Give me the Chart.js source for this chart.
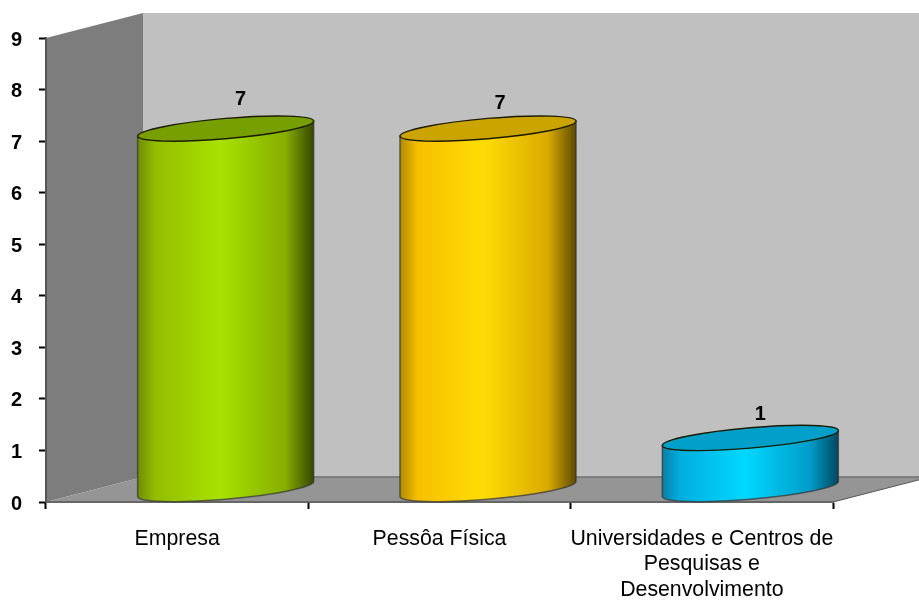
<!DOCTYPE html>
<html>
<head>
<meta charset="utf-8">
<style>
  html, body { margin: 0; padding: 0; background: #fff; }
  #wrap { width: 919px; height: 600px; }
</style>
<script src="https://cdn.jsdelivr.net/npm/chart.js@4/dist/chart.umd.js"></script>
</head>
<body>
<div id="wrap"><canvas id="chart" width="919" height="600"></canvas></div>
<script>
const categories = [
  'Empresa',
  'Pessôa Física',
  ['Universidades e Centros de', 'Pesquisas e', 'Desenvolvimento']
];
const values = [7, 7, 1];
const baseColors = ['#a8e000', '#ffdc05', '#00d8ff'];
const capColors = ['#779f00', '#cca400', '#00a0cb'];
const shadeStops = [0, 0.1, 0.47, 0.84, 1];
const shadeColors = [
  ['#6f8c00', '#93bd00', '#a8e200', '#86ad00', '#364700'],
  ['#b08a00', '#f7bf00', '#ffdc05', '#d9aa00', '#5c4a00'],
  ['#0a7ea6', '#00aedf', '#00d8ff', '#009cc8', '#00485e']
];
const labelNudges = [[15, -29], [12, -25], [10, -23]];

// Oblique projection of the plot box.
const DEPTH_X = 97;
const DEPTH_Y = -25;
const TILT = 7.5;
const MINOR = 10.2;

function ellipsePath(ctx, cx, cy, rx, start, end) {
  ctx.save();
  ctx.translate(cx, cy);
  ctx.transform(rx, -TILT, 0, MINOR, 0, 0);
  ctx.arc(0, 0, 1, start, end);
  ctx.restore();
}

const box3d = {
  id: 'box3d',
  beforeDraw(chart) {
    const { ctx, chartArea: a } = chart;
    const poly = (pts, fill) => {
      ctx.beginPath();
      pts.forEach((p, i) => i ? ctx.lineTo(p[0], p[1]) : ctx.moveTo(p[0], p[1]));
      ctx.closePath();
      ctx.fillStyle = fill;
      ctx.fill();
    };
    const bx = a.left + DEPTH_X, by = a.bottom + DEPTH_Y, ty = a.top + DEPTH_Y;
    poly([[bx, ty], [a.right + DEPTH_X, ty], [a.right + DEPTH_X, by], [bx, by]], '#c0c0c0');
    poly([[a.left, a.top], [bx, ty], [bx, by], [a.left, a.bottom]], '#7d7d7d');
    poly([[a.left, a.bottom], [bx, by], [a.right + DEPTH_X, by], [a.right, a.bottom]], '#959595');
    ctx.save();
    ctx.strokeStyle = '#707070';
    ctx.lineWidth = 1.5;
    ctx.beginPath();
    ctx.moveTo(bx, by);
    ctx.lineTo(a.right + DEPTH_X, by);
    ctx.stroke();
    ctx.strokeStyle = '#555';
    ctx.lineWidth = 1;
    ctx.beginPath();
    ctx.moveTo(a.right, a.bottom);
    ctx.lineTo(a.right + DEPTH_X, by);
    ctx.stroke();
    ctx.restore();

    // Tick labels sit slightly below their tick marks.
    chart.scales.y.getLabelItems().forEach(item => { item.options.translation[1] += 2; });
  },
  beforeDatasetDraw(chart, args) {
    const { ctx } = chart;
    args.meta.data.forEach((bar, i) => {
      const rx = bar.width / 2;
      const cx = bar.x + DEPTH_X / 2;
      const top = bar.y + DEPTH_Y / 2;
      const bottom = bar.base + DEPTH_Y / 2;
      const g = ctx.createLinearGradient(cx - rx, 0, cx + rx, 0);
      shadeStops.forEach((s, k) => g.addColorStop(s, shadeColors[i][k]));

      ctx.save();
      ctx.beginPath();
      ctx.moveTo(cx - rx, top + TILT);
      ctx.lineTo(cx + rx, top - TILT);
      ctx.lineTo(cx + rx, bottom - TILT);
      ellipsePath(ctx, cx, bottom, rx, 0, Math.PI);
      ctx.closePath();
      ctx.fillStyle = g;
      ctx.fill();
      ctx.lineWidth = 1.5;
      ctx.strokeStyle = 'rgba(50,50,50,0.7)';
      ctx.stroke();

      ctx.beginPath();
      ellipsePath(ctx, cx, top, rx, 0, Math.PI * 2);
      ctx.closePath();
      ctx.fillStyle = capColors[i];
      ctx.fill();
      ctx.lineWidth = 1.4;
      ctx.strokeStyle = '#1c1c00';
      ctx.stroke();

      const nudge = labelNudges[i];
      ctx.fillStyle = '#000';
      ctx.font = 'bold 20px "Liberation Sans"';
      ctx.textAlign = 'center';
      ctx.textBaseline = 'middle';
      ctx.fillText(String(values[i]), cx + nudge[0], top + nudge[1]);
      ctx.restore();
    });
    return false;
  }
};

new Chart(document.getElementById('chart'), {
  type: 'bar',
  data: {
    labels: categories,
    datasets: [{
      data: values,
      backgroundColor: baseColors,
      barPercentage: 0.671,
      categoryPercentage: 1
    }]
  },
  plugins: [box3d],
  options: {
    responsive: false,
    animation: false,
    layout: { padding: { top: 38, right: 86, left: 0, bottom: 0 } },
    plugins: { legend: { display: false }, tooltip: { enabled: false } },
    scales: {
      x: {
        afterFit(scale) { scale.height = 98; },
        border: { color: '#666', width: 2 },
        grid: { drawOnChartArea: false, offset: true, tickLength: 7, tickWidth: 2, tickColor: '#000' },
        ticks: {
          color: '#000',
          padding: 17,
          maxRotation: 0,
          autoSkip: false,
          font: { family: '"Liberation Sans"', size: 21.3, lineHeight: 1.2 }
        }
      },
      y: {
        min: 0,
        max: 9,
        afterFit(scale) { scale.width = 46; },
        border: { color: '#555', width: 2 },
        grid: { drawOnChartArea: false, tickLength: 7, tickWidth: 2, tickColor: '#000' },
        ticks: {
          stepSize: 1,
          color: '#000',
          padding: 17,
          font: { family: '"Liberation Sans"', size: 20, weight: 'bold' }
        }
      }
    }
  }
});
</script>
</body>
</html>
